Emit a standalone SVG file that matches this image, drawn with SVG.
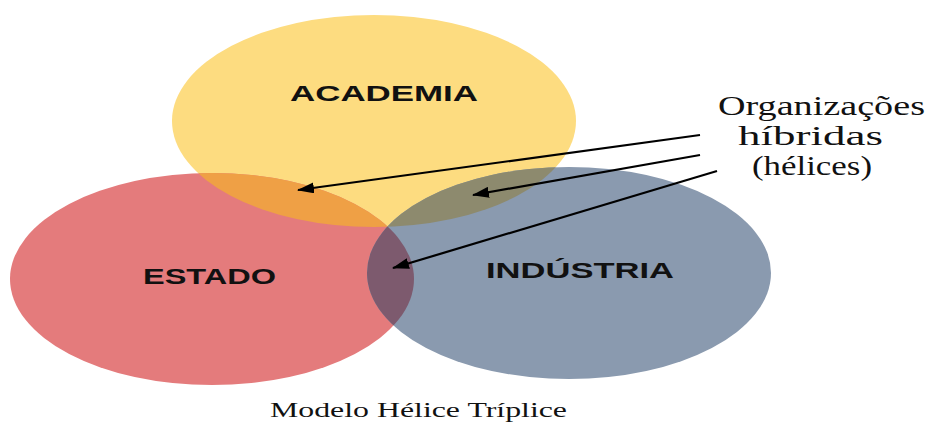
<svg xmlns="http://www.w3.org/2000/svg" width="930" height="423" viewBox="0 0 930 423">
<style>
.lbl{font-family:"Liberation Sans",Arial,sans-serif;font-weight:bold;font-size:22px;fill:#111;}
.ser{font-family:"Liberation Serif","Times New Roman",serif;fill:#111;}
.arr{stroke:#000;stroke-width:2.2;fill:none;marker-end:url(#ah);}
</style>
<defs>
<marker id="ah" viewBox="0 0 17 11" refX="16" refY="5.5" markerWidth="17" markerHeight="11" markerUnits="userSpaceOnUse" orient="auto">
<path d="M0,0 L17,5.5 L0,11 Z" fill="#000"/>
</marker>
<clipPath id="cA"><ellipse cx="374" cy="121" rx="202" ry="106"/></clipPath>
<clipPath id="cE"><ellipse cx="212" cy="279" rx="202" ry="106"/></clipPath>
</defs>
<rect width="930" height="423" fill="#fff"/>
<g id="academia">
<ellipse cx="374" cy="121" rx="202" ry="106" fill="#FDDC80"/>
</g>
<g id="estado">
<ellipse cx="212" cy="279" rx="202" ry="106" fill="#E47B7C"/>
</g>
<g id="industria">
<ellipse cx="569" cy="273" rx="202" ry="106" fill="#8A9AAF"/>
</g>
<g id="overlaps">
<ellipse cx="212" cy="279" rx="202" ry="106" fill="#EFA045" clip-path="url(#cA)"/>
<ellipse cx="569" cy="273" rx="202" ry="106" fill="#8D8A6E" clip-path="url(#cA)"/>
<ellipse cx="569" cy="273" rx="202" ry="106" fill="#7D5A6E" clip-path="url(#cE)"/>
</g>
<g id="labels">
<text class="lbl" x="290" y="101" textLength="188" lengthAdjust="spacingAndGlyphs">ACADEMIA</text>
<text class="lbl" x="143" y="284" textLength="133" lengthAdjust="spacingAndGlyphs">ESTADO</text>
<text class="lbl" x="486" y="278" textLength="188" lengthAdjust="spacingAndGlyphs">INDÚSTRIA</text>
</g>
<g id="hybrid-label">
<text class="ser" x="718" y="115" font-size="27" textLength="207" lengthAdjust="spacingAndGlyphs">Organizações</text>
<text class="ser" x="738" y="145" font-size="27" textLength="145" lengthAdjust="spacingAndGlyphs">híbridas</text>
<text class="ser" x="752" y="175" font-size="27" textLength="120" lengthAdjust="spacingAndGlyphs">(hélices)</text>
</g>
<g id="connectors">
<line class="arr" x1="700" y1="135" x2="298" y2="190"/>
<line class="arr" x1="700" y1="155" x2="473" y2="195"/>
<line class="arr" x1="717" y1="171" x2="393" y2="268"/>
</g>
<g id="caption">
<text class="ser" x="270" y="417" font-size="22" textLength="297" lengthAdjust="spacingAndGlyphs">Modelo Hélice Tríplice</text>
</g>
</svg>
